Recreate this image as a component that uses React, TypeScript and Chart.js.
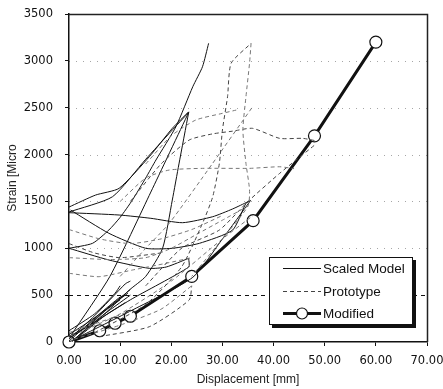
import React, { useEffect, useRef } from "react";
import { Chart, registerables } from "chart.js";

Chart.register(...registerables);

// ---- axis ticks ----
const xTicks = [0, 10, 20, 30, 40, 50, 60, 70];
const yTicks = [0, 500, 1000, 1500, 2000, 2500, 3000, 3500];

// ---- Modified series ----
const modifiedX = [0, 6, 9, 12, 24, 36, 48, 60];
const modifiedY = [0, 120, 200, 275, 700, 1295, 2200, 3200];

// ---- Scaled Model curves (x, y pairs) ----
const scaled1: number[][] = [[0, 1000], [4.6, 1053], [7.8, 1195], [10, 1330], [12.4, 1515], [15, 1750], [17, 1942], [20.9, 2297], [24.2, 2724], [26.1, 2937], [27.3, 3187]];
const scaled2: number[][] = [[0, 1440], [5.2, 1568], [9.8, 1640], [15.7, 1977], [20.2, 2280], [23.4, 2457]];
const scaled3: number[][] = [[0, 1387], [8.5, 1550], [15, 1950], [20, 2250], [23.4, 2450]];
const scaled4: number[][] = [[0.5, 80], [8, 700], [16, 1600], [23.4, 2450]];
const scaled5: number[][] = [[23.4, 2450], [21.5, 1900], [20.2, 1515], [18.3, 1000], [15, 700], [11.8, 555], [6, 250], [1, 30]];
const scaled6: number[][] = [[0, 1380], [9.8, 1355], [16, 1320], [22.2, 1273], [28.1, 1337], [32, 1420], [35, 1497]];
const scaled7: number[][] = [[0.3, 1408], [7.8, 1160], [15, 1000], [20.2, 1000], [25.5, 1053], [32, 1195], [34.6, 1480], [35.5, 1510]];
const scaled8: number[][] = [[0, 1000], [7.8, 875], [15.7, 786], [19, 800], [23.4, 893]];
const scaled9: number[][] = [[23.4, 893], [23.4, 800], [12, 450], [0, 40]];
const scaled10: number[][] = [[35.5, 1510], [30, 1100], [24.2, 690], [12, 330], [0, 0]];
const scaled11: number[][] = [[0, 30], [5, 280], [11, 620], [12, 650]];
const scaled12: number[][] = [[0.5, 0], [6, 260], [12, 500]];
const scaled13: number[][] = [[0, 80], [4, 220], [9, 420], [11.5, 520]];
const scaled14: number[][] = [[1, 20], [7, 330], [10, 450]];
const scaled15: number[][] = [[0, 60], [3, 150], [8, 380], [12, 560]];
const scaled16: number[][] = [[0, 10], [6, 300], [10, 480], [11, 500]];
const scaled17: number[][] = [[2, 60], [7, 280], [11, 420]];
const scaled18: number[][] = [[0, 120], [5, 300], [9, 520], [10, 600]];

// ---- Prototype curves (x, y pairs) ----
const proto1: number[][] = [[5, 100], [15, 400], [22, 800], [26.1, 1266], [28.1, 1550], [29.4, 1906], [30, 2262], [31, 2617], [31.7, 2974], [35.6, 3187]];
const proto2: number[][] = [[35.6, 3187], [35.3, 2974], [34.6, 2617], [34, 2262], [34.6, 1906], [35.3, 1622], [35, 1450], [30, 1100], [24, 700]];
const proto3: number[][] = [[10, 700], [15, 1000], [19.6, 1266], [28, 1900], [35.9, 2510]];
const proto4: number[][] = [[12, 1500], [18, 1900], [23.5, 2155], [28, 2220], [32, 2250], [35.9, 2280], [41.2, 2173], [45.7, 2173], [48, 2150]];
const proto5: number[][] = [[15, 1900], [20, 2200], [24.8, 2369], [30, 2440], [32.7, 2475]];
const proto6: number[][] = [[10, 1500], [15, 1750], [19.6, 1835], [26.1, 1853], [35.3, 1853], [41.2, 1870], [44, 1850]];
const proto7: number[][] = [[15, 600], [22, 1000], [29.4, 1195], [35, 1500], [41.2, 1800], [48, 2100]];
const proto8: number[][] = [[0, 733], [5.9, 697], [12.4, 768], [19, 840], [24, 900]];
const proto9: number[][] = [[0, 900], [8, 880], [15, 900], [20, 1000], [25, 1150], [30, 1300], [35, 1450]];
const proto10: number[][] = [[5.9, 57], [15.7, 163], [23.5, 448], [24, 600]];
const proto11: number[][] = [[1, 30], [10, 180], [18, 350], [24, 600]];
const proto12: number[][] = [[0, 1200], [6, 1100], [12, 1050], [18, 1100], [24, 1200], [30, 1350]];
const proto13: number[][] = [[0, 1050], [5, 950], [10, 900], [18, 950]];
const proto14: number[][] = [[2, 100], [10, 300], [20, 650], [30, 1100], [36, 1350]];
const proto15: number[][] = [[0, 100], [8, 250], [12, 330]];

const scaledLines = [scaled1, scaled2, scaled3, scaled4, scaled5, scaled6, scaled7, scaled8, scaled9, scaled10, scaled11, scaled12, scaled13, scaled14, scaled15, scaled16, scaled17, scaled18];
const protoLines = [proto1, proto2, proto3, proto4, proto5, proto6, proto7, proto8, proto9, proto10, proto11, proto12, proto13, proto14, proto15];

const legendLabels = ["Scaled Model", "Prototype", "Modified"];
const refLineValue = 500;

const toXY = (pts: number[][]) => pts.map(([x, y]) => ({ x, y }));

const framePlugin = {
  id: "frameAndLegend",
  beforeDatasetsDraw(chart: any) {
    const { ctx, chartArea, scales } = chart;
    ctx.save();
    // faint dotted grid
    ctx.strokeStyle = "rgba(0,0,0,0.35)";
    ctx.lineWidth = 1;
    ctx.setLineDash([1, 6]);
    yTicks.forEach((v) => {
      if (v === 0 || v === refLineValue || v === 3500) return;
      const y = Math.round(scales.y.getPixelForValue(v)) + 0.5;
      ctx.beginPath();
      ctx.moveTo(chartArea.left, y);
      ctx.lineTo(chartArea.right, y);
      ctx.stroke();
    });
    // dashed reference line
    ctx.strokeStyle = "#111";
    ctx.setLineDash([4, 4]);
    const yr = Math.round(scales.y.getPixelForValue(refLineValue)) + 0.5;
    ctx.beginPath();
    ctx.moveTo(chartArea.left, yr);
    ctx.lineTo(chartArea.right, yr);
    ctx.stroke();
    ctx.restore();
  },
  afterDraw(chart: any) {
    const { ctx, chartArea } = chart;
    ctx.save();
    // top and right frame
    ctx.strokeStyle = "#222";
    ctx.lineWidth = 1.5;
    ctx.beginPath();
    ctx.moveTo(chartArea.left, chartArea.top + 0.5);
    ctx.lineTo(chartArea.right + 0.5, chartArea.top + 0.5);
    ctx.lineTo(chartArea.right + 0.5, chartArea.bottom);
    ctx.stroke();

    // legend box
    const w = 144;
    const h = 68;
    const bx = chartArea.right - 14 - w;
    const by = chartArea.bottom - 17 - h;
    ctx.fillStyle = "#111";
    ctx.fillRect(bx + 3, by + 3, w, h);
    ctx.fillStyle = "#fff";
    ctx.fillRect(bx, by, w, h);
    ctx.strokeStyle = "#111";
    ctx.lineWidth = 1;
    ctx.strokeRect(bx + 0.5, by + 0.5, w - 1, h - 1);

    const lx1 = bx + 14;
    const lx2 = bx + 52;
    const tx = bx + 54;
    const rows = [by + 11, by + 34, by + 56];
    ctx.font = "13.5px Arial, 'Liberation Sans', sans-serif";
    ctx.textBaseline = "middle";
    ctx.textAlign = "left";
    rows.forEach((ry, i) => {
      ctx.beginPath();
      ctx.strokeStyle = i === 1 ? "#444" : "#111";
      ctx.lineWidth = i === 2 ? 3 : 1;
      ctx.setLineDash(i === 1 ? [4, 3] : []);
      ctx.moveTo(lx1, ry + 0.5);
      ctx.lineTo(lx2, ry + 0.5);
      ctx.stroke();
      ctx.setLineDash([]);
      if (i === 2) {
        ctx.beginPath();
        ctx.arc((lx1 + lx2) / 2, ry + 0.5, 5.5, 0, Math.PI * 2);
        ctx.fillStyle = "#fff";
        ctx.fill();
        ctx.lineWidth = 1.2;
        ctx.strokeStyle = "#111";
        ctx.stroke();
      }
      ctx.fillStyle = "#111";
      ctx.fillText(legendLabels[i], tx, ry + 1);
    });
    ctx.restore();
  },
};

export default function App() {
  const ref = useRef<HTMLCanvasElement | null>(null);

  useEffect(() => {
    if (!ref.current) return;
    const datasets: any[] = [];
    protoLines.forEach((pts, i) => {
      datasets.push({
        label: "Prototype",
        data: toXY(pts),
        borderColor: i % 3 === 0 ? "#444" : "#777",
        borderWidth: 1,
        borderDash: [4, 3],
        pointRadius: 0,
        tension: 0.2,
        fill: false,
      });
    });
    scaledLines.forEach((pts) => {
      datasets.push({
        label: "Scaled Model",
        data: toXY(pts),
        borderColor: "#111",
        borderWidth: 1,
        pointRadius: 0,
        tension: 0.2,
        fill: false,
      });
    });
    datasets.push({
      label: "Modified",
      data: modifiedX.map((x, i) => ({ x, y: modifiedY[i] })),
      borderColor: "#111",
      borderWidth: 3,
      pointRadius: 6,
      pointBackgroundColor: "#fff",
      pointBorderColor: "#111",
      pointBorderWidth: 1.2,
      tension: 0,
      fill: false,
      clip: false,
    });

    const tickFont = { family: "'DejaVu Sans', sans-serif", size: 11.5 };
    const titleFont = { family: "Arial, 'Liberation Sans', sans-serif", size: 12 };

    const chart = new Chart(ref.current, {
      type: "line",
      data: { datasets },
      plugins: [framePlugin],
      options: {
        responsive: false,
        animation: false,
        layout: { padding: { left: 0, top: 14, right: 16, bottom: 0 } },
        plugins: { legend: { display: false }, tooltip: { enabled: false } },
        scales: {
          x: {
            type: "linear",
            min: 0,
            max: 70,
            afterBuildTicks: (scale: any) => {
              scale.ticks = xTicks.map((v) => ({ value: v }));
            },
            afterFit: (scale: any) => {
              scale.height = 47;
              scale.paddingLeft = 0;
              scale.paddingRight = 0;
            },
            ticks: {
              callback: (v: any) => Number(v).toFixed(2),
              color: "#111",
              font: tickFont,
              padding: 8,
              maxRotation: 0,
            },
            grid: { drawOnChartArea: false, drawTicks: true, tickLength: 4, tickColor: "#111" },
            border: { color: "#111", width: 1.5 },
            title: { display: true, text: "Displacement [mm]", color: "#222", font: titleFont, padding: { top: 0, bottom: 2 } },
          },
          y: {
            min: 0,
            max: 3500,
            afterBuildTicks: (scale: any) => {
              scale.ticks = yTicks.map((v) => ({ value: v }));
            },
            afterFit: (scale: any) => {
              scale.width = 69;
              scale.paddingTop = 0;
              scale.paddingBottom = 0;
            },
            ticks: { color: "#111", font: tickFont, padding: 12, callback: (v: any) => String(v) },
            grid: { drawOnChartArea: false, drawTicks: true, tickLength: 4, tickColor: "#111" },
            border: { color: "#111", width: 1.5 },
            title: { display: true, text: "Strain [Micro", color: "#222", font: titleFont, padding: { top: 5, bottom: 0 } },
          },
        },
      } as any,
    });
    return () => chart.destroy();
  }, []);

  return (
    <div style={{ position: "fixed", left: 0, top: 0, width: 443, height: 389, background: "#fff" }}>
      <canvas ref={ref} width={443} height={389} style={{ width: 443, height: 389, display: "block" }} />
    </div>
  );
}
